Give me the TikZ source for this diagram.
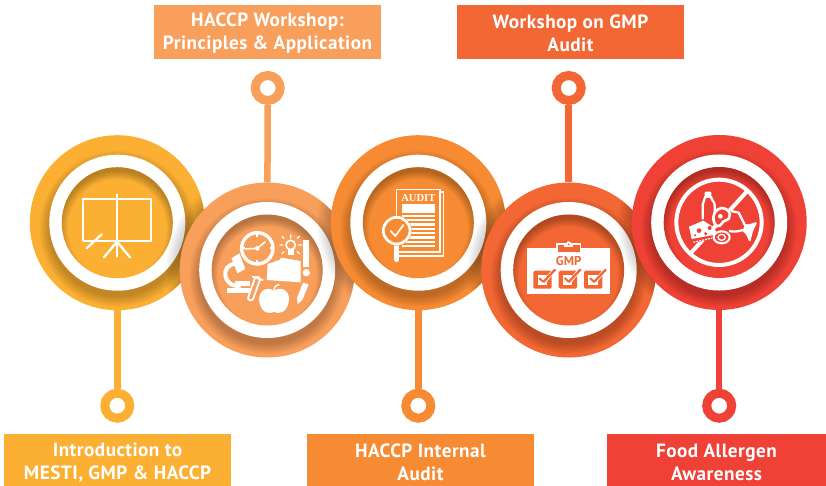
\documentclass[tikz,border=0pt]{standalone}
\usepackage{fontspec}
\setmainfont{PT Sans}
\newfontfamily\auditfont{Liberation Serif}
\newfontfamily\labfont[LetterSpace=2.5]{PT Sans}
\definecolor{cA}{HTML}{FBB034}
\definecolor{cB}{HTML}{F99F5C}
\definecolor{cC}{HTML}{F68B33}
\definecolor{cD}{HTML}{F26733}
\definecolor{cE}{HTML}{EF4136}
\newcommand{\lowstrut}{\rule{0pt}{18pt}}
\newcommand{\topstrut}{\rule{0pt}{16pt}}
\tikzset{
  disc/.style={circle,minimum size=175,inner sep=0,outer sep=0},
  marker/.style={circle,fill=white,inner sep=0,minimum size=25,line width=9},
  stem/.style={line width=6.5},
  lab/.style={minimum width=227,inner sep=0,outer sep=0,text=white,align=center,
    font=\labfont\fontsize{19.2}{23}\selectfont\bfseries},
  iconzoom/.style={x=0.33333pt,y=-0.33333pt}
}
\newcommand{\overlapshadow}[4]{%
  \begin{scope}
    \clip (#1,#2) circle[radius=87.5];
    \foreach \i in {0,...,9}{\fill[black,opacity=.022] (#3,#4) circle[radius=87.5+1.5*\i];}
  \end{scope}}
\newcommand{\ringpart}[3]{%
  \begin{scope}
    \clip (#1,#2) circle[radius=87.5];
    \foreach \i in {0,...,9}{\fill[black,opacity=.024] (#1,#2+6) circle[radius=68+1.1*\i];}
  \end{scope}
  \fill[white] (#1,#2) circle[radius=68];
  \fill[#3] (#1,#2) circle[radius=55.5];
  \begin{scope}
    \clip (#1,#2) circle[radius=55.5];
    \foreach \i in {0,...,9}{\fill[black,opacity=.026,even odd rule] (#1-70,#2-70) rectangle (#1+70,#2+70) (#1,#2+6) circle[radius=49.5+0.9*\i];}
  \end{scope}}
\begin{document}
\begin{tikzpicture}[x=1pt,y=-1pt]
\useasboundingbox (0,0) rectangle (826,486);
% ---------- step 1
\node[disc,fill=cA] (c1) at (117.3,222.7) {};
\node[marker,draw=cA] (m1) at (117.3,405.7) {};
\draw[stem,cA] (c1) -- (m1);
\ringpart{117.3}{222.7}{cA}
\node[lab,fill=cA,minimum height=52] (l1) at (117.5,460) {\lowstrut Introduction to\\MESTI, GMP \& HACCP};
\begin{scope}[shift={(30,130)},iconzoom,white,line width=2.3pt]
  \draw[line join=round] (160,208) rectangle (363,333);
  \draw[line cap=round] (261,194) -- (261,380);
  \draw[line cap=round] (261,335) -- (222,382) (261,335) -- (300,382);
  \draw[line cap=round] (170,355) -- (215,313);
\end{scope}
% ---------- step 2
\overlapshadow{117.3}{222.7}{267.2}{270}
\node[disc,fill=cB] (c2) at (267.2,270) {};
\node[marker,draw=cB] (m2) at (267.7,88) {};
\draw[stem,cB] (c2) -- (m2);
\ringpart{267.2}{270}{cB}
\node[lab,fill=cB,minimum height=54] (l2) at (267.5,32) {\topstrut HACCP Workshop:\\Principles \& Application};
\begin{scope}[shift={(200,220)},iconzoom]
  % clock
  \draw[white,line width=3.4pt] (172,85) circle[radius=47];
  \fill[white] (172,85) circle[radius=7];
  \draw[white,line width=1.6pt,line cap=round] (172,85) -- (136,87) (172,85) -- (195,66);
  \draw[white,line width=1.7pt] (172,38) -- (172,50) (172,132) -- (172,120) (125,85) -- (135,85) (219,85) -- (209,85);
  % bulb
  \draw[white,line width=1.7pt] (272,75) circle[radius=14];
  \fill[white] (263,88) rectangle (281,106);
  \draw[white,line width=1.4pt,line cap=round] (272,45) -- (272,54) (248,75) -- (240,75) (296,75) -- (304,75)
     (252,55) -- (246,49) (292,55) -- (298,49) (252,95) -- (246,101) (292,95) -- (298,101);
  % exclamation
  \fill[white] (310,60) rectangle (328,140);
  \fill[white] (319,158) circle[radius=11];
  % pencil
  \fill[white] (309,188) -- (326,193) -- (307,240) -- (293,252) -- (291,234) -- cycle;
  % book
  \fill[white] (203,132) -- (238,120) -- (244,113) -- (302,123) -- (302,187) -- (200,180) -- cycle;
  % microscope
  \draw[white,line width=4pt] (108,131) .. controls (58,133) and (68,205) .. (122,197);
  \fill[white] (95,115) -- (118,100) -- (136,147) -- (112,160) -- cycle;
  \fill[white] (80,205) rectangle (150,220);
  \fill[white] (105,183) rectangle (150,197);
  % test tube
  \draw[white,line width=7pt,line cap=round] (172,178) -- (152,234);
  \draw[cB,line width=3.2pt,line cap=round] (172,178) -- (152,234);
  \draw[white,line width=1.9pt,line cap=round] (158,170) -- (188,180);
  % apple
  \fill[white] (222,212) .. controls (250,195) and (275,220) .. (265,250)
    .. controls (258,280) and (235,282) .. (222,276)
    .. controls (208,282) and (186,280) .. (179,250)
    .. controls (170,220) and (195,195) .. (222,212) -- cycle;
  \draw[white,line width=1.5pt] (222,212) .. controls (222,200) and (228,196) .. (238,194);
\end{scope}
% ---------- step 3
\overlapshadow{267.2}{270}{418.3}{222.7}
\node[disc,fill=cC] (c3) at (418.3,222.7) {};
\node[marker,draw=cC] (m3) at (418.3,405.7) {};
\draw[stem,cC] (c3) -- (m3);
\ringpart{418.3}{222.7}{cC}
\node[lab,fill=cC,minimum height=52] (l3) at (420.5,460) {\lowstrut HACCP Internal\\Audit};
\begin{scope}[shift={(330,130)},iconzoom]
  \draw[white,line width=1.2pt] (205,186) -- (341,186) -- (341,378) -- (205,378);
  \fill[cC] (197,176) rectangle (332,368);
  \draw[white,line width=1.6pt] (199,178) rectangle (330,366);
  \node[text=white,font=\auditfont\fontsize{10.6}{12}\selectfont\bfseries,inner sep=0] (audit) at (265,204) {AUDIT};
  \fill[white] (215,222) rectangle (315,248);
  \foreach \yy in {254,267,280,293,306,319,332,345}{\fill[white] (215,\yy) rectangle (315,\yy+7);}
  \draw[white,line width=4.7pt,line cap=round] (200,345) -- (200,389);
  \fill[cC] (200,302) circle[radius=45];
  \draw[white,line width=2.7pt] (200,302) circle[radius=40];
  \draw[white,line width=1.7pt,line cap=round,line join=round] (182,303) -- (196,318) -- (220,285);
\end{scope}
% ---------- step 4
\overlapshadow{418.3}{222.7}{568.7}{270}
\node[disc,fill=cD] (c4) at (568.7,270) {};
\node[marker,draw=cD] (m4) at (568.7,88) {};
\draw[stem,cD] (c4) -- (m4);
\ringpart{568.7}{270}{cD}
\node[lab,fill=cD,minimum height=54] (l4) at (570.5,32) {\topstrut Workshop on GMP\\Audit};
\begin{scope}[shift={(330,130)},iconzoom]
  \fill[white] (591,354) rectangle (840,492);
  \fill[white] (678,340) rectangle (754,370);
  \fill[cD] (683,346) rectangle (749,367);
  \fill[white] (703,344) rectangle (729,350);
  \fill[white] (716,341) circle[radius=7];
  \fill[cD] (716,343) circle[radius=3];
  \node[text=cD,font=\fontsize{12.8}{14}\selectfont\bfseries,inner sep=0] (gmp) at (716,392) {GMP};
  \foreach \xx in {610,686,762}{
    \fill[cD,rounded corners=1.5pt] (\xx,422) rectangle (\xx+55,476);
    \fill[white] (\xx+13,436) rectangle (\xx+41,464);
    \draw[white,line width=3.5pt] (\xx+22,444) -- (\xx+33,456) -- (\xx+62,420);
    \draw[cD,line width=1.9pt] (\xx+18,444) -- (\xx+30,456);
    \draw[cD,line width=2.3pt] (\xx+30,456) -- (\xx+66,418);
  }
\end{scope}
% ---------- step 5
\overlapshadow{568.7}{270}{719.2}{222.5}
\node[disc,fill=cE] (c5) at (719.2,222.5) {};
\node[marker,draw=cE] (m5) at (719.2,405.7) {};
\draw[stem,cE] (c5) -- (m5);
\ringpart{719.2}{222.5}{cE}
\node[lab,fill=cE,minimum width=219,minimum height=52] (l5) at (716.5,460) {\lowstrut Food Allergen\\Awareness};
\begin{scope}[shift={(675,180)},iconzoom]
  \draw[white,line width=4pt] (132,127) circle[radius=128];
  \draw[white,line width=4pt] (45,222) -- (215,35);
  % cover the bar behind foods
  \fill[cE] (82,70) rectangle (120,118);
  \fill[cE] (140,110) circle[radius=30];
  \fill[cE] (165,92) -- (190,97) -- (210,135) -- (205,152) -- (165,155) -- cycle;
  \fill[cE] (42,140) -- (85,122) -- (125,150) -- (125,175) -- (50,190) -- cycle;
  % bottle
  \draw[white,line width=2.3pt,line join=round,fill=cE] (83,118) -- (83,75) .. controls (83,65) and (90,60) .. (91,50) -- (107,50) .. controls (108,60) and (119,65) .. (119,75) -- (119,112);
  \fill[white,rounded corners=1pt] (89,35) rectangle (109,52);
  % fish
  \draw[white,line width=2.3pt,line join=round] (168,93) -- (191,98) -- (210,136) .. controls (222,138) and (232,134) .. (242,130)
    .. controls (232,145) and (228,160) .. (224,180) .. controls (220,165) and (212,155) .. (203,150) .. controls (190,155) and (175,156) .. (162,153);
  \fill[white] (210,136) .. controls (222,138) and (232,134) .. (242,130) .. controls (232,145) and (228,160) .. (224,180) .. controls (220,165) and (212,155) .. (203,150) -- cycle;
  % steak
  \draw[white,line width=2.6pt,fill=cE] (140,84) .. controls (170,86) and (172,118) .. (150,122) .. controls (140,124) and (140,140) .. (128,138) .. controls (110,132) and (108,90) .. (140,84) -- cycle;
  \fill[white] (136,109) circle[radius=7];
  % cheese
  \fill[white] (42,140) -- (85,122) -- (118,143) -- (126,163) -- (50,177) -- cycle;
  \fill[cE] (72,152) circle[radius=7] (92,161) circle[radius=5] (104,144) circle[radius=6] (60,166) circle[radius=3.5];
  \draw[white,line width=1.2pt,dash pattern=on 2pt off 1pt] (55,187) -- (112,174);
  % egg
  \draw[white,line width=2.1pt,fill=cE] (140,172) ellipse[x radius=24,y radius=18];
  \draw[white,line width=1.3pt] (140,172) ellipse[x radius=11,y radius=9];
\end{scope}
\end{tikzpicture}
\end{document}
